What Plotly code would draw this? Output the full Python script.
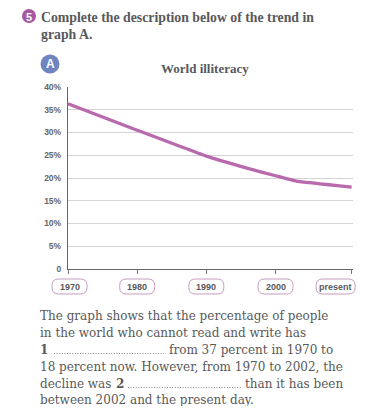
import plotly.graph_objects as go

# ---- data ----
years = [1970, 1980, 1990, 1996, 2000, 2003, 2011]
illiteracy = [36.3, 30.5, 24.8, 22.1, 20.5, 19.3, 18.0]
tick_years = [1970, 1980, 1990, 2000, 2011]
tick_labels = ["1970", "1980", "1990", "2000", "present"]
y_ticks = [0, 5, 10, 15, 20, 25, 30, 35, 40]
y_tick_labels = ["0", "5%", "10%", "15%", "20%", "25%", "30%", "35%", "40%"]
x_range = [1970, 2011.2]

# page body has an 8px margin: figure sits at (8, 8) in the window
OFF = 8
W, H = 376 - 2 * OFF, 414 - 2 * OFF
L, R, T, B = 68, 353, 87, 269  # plot area in window pixels
PADX = 2.5  # annotation inner padding

def px(x):
    return (x - L) / (R - L)

def py(y):
    return (B - y) / (B - T)

def xfrac(v):
    return (v - x_range[0]) / (x_range[1] - x_range[0])

TEXT = "#58595b"
SERIF = "Liberation Serif"
BODY = "DejaVu Serif"
SANS = "Liberation Sans"
BODY_SIZE = 12.0

fig = go.Figure()
fig.add_trace(go.Scatter(
    x=years, y=illiteracy, mode="lines",
    line=dict(color="#b86aad", width=3.3, shape="spline", smoothing=0.3),
    hoverinfo="skip", showlegend=False,
))

ann = []
shapes = []

# header
shapes.append(dict(type="circle", xref="paper", yref="paper",
                   x0=px(22), x1=px(36), y0=py(9), y1=py(23),
                   fillcolor="#a9579f", line=dict(width=0), layer="above"))
ann.append(dict(text="<b>5</b>", x=px(29), y=py(16.5), xref="paper", yref="paper",
                showarrow=False, font=dict(family=SANS, size=11, color="white"),
                xanchor="center", yanchor="middle"))
ann.append(dict(text="<b>Complete the description below of the trend in</b>",
                x=px(41 - PADX), y=py(17), xref="paper", yref="paper", showarrow=False,
                xanchor="left", yanchor="middle",
                font=dict(family=SERIF, size=13.8, color=TEXT)))
ann.append(dict(text="<b>graph A.</b>",
                x=px(41 - PADX), y=py(35), xref="paper", yref="paper", showarrow=False,
                xanchor="left", yanchor="middle",
                font=dict(family=SERIF, size=13.8, color=TEXT)))

# "A" badge
shapes.append(dict(type="circle", xref="paper", yref="paper",
                   x0=px(40.5), x1=px(59.5), y0=py(54.5), y1=py(73.5),
                   fillcolor="#6f85c0", line=dict(width=0), layer="above"))
ann.append(dict(text="<b>A</b>", x=px(50), y=py(64), xref="paper", yref="paper",
                showarrow=False, font=dict(family=SANS, size=12, color="white"),
                xanchor="center", yanchor="middle"))

# chart title
ann.append(dict(text="<b>World illiteracy</b>", x=px(205), y=py(69),
                xref="paper", yref="paper", showarrow=False,
                xanchor="center", yanchor="middle",
                font=dict(family=SERIF, size=13, color=TEXT)))

# x tick pills
def pill(w, h, r, off, cy):
    x0, x1 = -w / 2 + off, w / 2 + off
    y0, y1 = cy - h / 2, cy + h / 2
    return (f"M{x0 + r},{y0} L{x1 - r},{y0} Q{x1},{y0} {x1},{y0 + r} "
            f"L{x1},{y1 - r} Q{x1},{y1} {x1 - r},{y1} L{x0 + r},{y1} "
            f"Q{x0},{y1} {x0},{y1 - r} L{x0},{y0 + r} Q{x0},{y0} {x0 + r},{y0} Z")

for yr, lab in zip(tick_years, tick_labels):
    off = -16 if lab == "present" else (1.5 if yr == 1970 else 0)
    w = 39 if lab == "present" else 35
    shapes.append(dict(type="path", xref="paper", yref="paper",
                       xsizemode="pixel", ysizemode="pixel",
                       xanchor=xfrac(yr), yanchor=0, path=pill(w, 15, 6.5, off, -17.5),
                       fillcolor="white", line=dict(color="#c79ac2", width=1)))
    ann.append(dict(text=f"<b>{lab}</b>", x=yr, y=py(286.5), xref="x", yref="paper",
                    xshift=off, showarrow=False, xanchor="center", yanchor="middle",
                    font=dict(family=SANS, size=9, color=TEXT)))

# paragraph
lines = [
    (315.5, 40, "The graph shows that the percentage of people"),
    (332.5, 40, "in the world who cannot read and write has"),
    (349.5, 169, "from 37 percent in 1970 to"),
    (366.5, 40, "18 percent now. However, from 1970 to 2002, the"),
    (383.5, 40, "decline was"),
    (383.5, 245, "than it has been"),
    (399.5, 40, "between 2002 and the present day."),
]
for yy, xx, t in lines:
    ann.append(dict(text=t, x=px(xx - PADX), y=py(yy), xref="paper", yref="paper",
                    showarrow=False, xanchor="left", yanchor="middle",
                    font=dict(family=BODY, size=BODY_SIZE, color=TEXT)))
ann.append(dict(text="<b>1</b>", x=px(40 - PADX), y=py(349.5), xref="paper", yref="paper",
                showarrow=False, xanchor="left", yanchor="middle",
                font=dict(family=BODY, size=BODY_SIZE, color=TEXT)))
ann.append(dict(text="<b>2</b>", x=px(116 - PADX), y=py(383.5), xref="paper", yref="paper",
                showarrow=False, xanchor="left", yanchor="middle",
                font=dict(family=BODY, size=BODY_SIZE, color=TEXT)))
for (x0, x1, yy) in [(54, 165, 353.5), (128, 241, 387.5)]:
    shapes.append(dict(type="line", xref="paper", yref="paper",
                       x0=px(x0), x1=px(x1), y0=py(yy), y1=py(yy),
                       line=dict(color="#8a8a8a", width=1, dash="1px,1.6px")))

fig.update_layout(
    width=W, height=H,
    margin=dict(l=L - OFF, r=W - (R - OFF), t=T - OFF, b=H - (B - OFF), pad=0),
    paper_bgcolor="white", plot_bgcolor="white",
    annotations=ann, shapes=shapes,
    xaxis=dict(range=x_range, tickvals=tick_years, showticklabels=False,
               ticks="outside", ticklen=4, tickcolor="#777", tickwidth=1,
               showgrid=False, zeroline=False, showline=True,
               linecolor="#666", linewidth=1.3, fixedrange=True),
    yaxis=dict(range=[0, 40], tickvals=y_ticks, ticktext=y_tick_labels,
               tickfont=dict(family=SANS, size=8.5, color="#666", weight="bold"),
               ticks="", showgrid=True, gridcolor="#d4d4d4", gridwidth=1,
               zeroline=False, showline=True, linecolor="#666", linewidth=1.3,
               ticklabelstandoff=4, fixedrange=True),
)

fig.write_html("out.html")
